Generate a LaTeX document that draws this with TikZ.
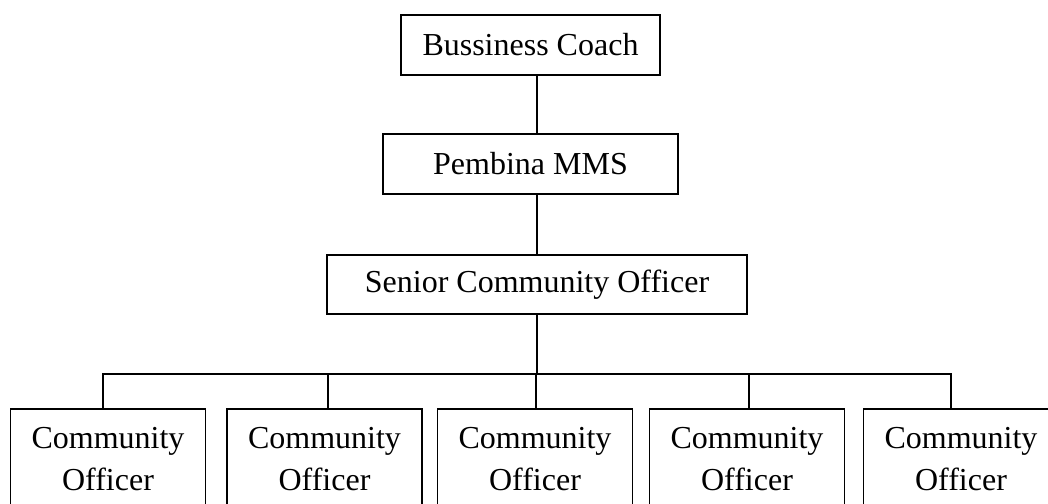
\documentclass[tikz,border=0pt]{standalone}
\usepackage{fontspec}
\setmainfont{Liberation Serif}
\usepackage{tikz}

\begin{document}
\begin{tikzpicture}[x=0.5pt, y=-0.5pt]
      \tikzstyle{box} = [draw, rectangle, line width=0.65pt, inner sep=0pt, align=center, font=\fontsize{16}{21}\selectfont]
      \tikzstyle{officer} = [box, minimum width=97.5pt, minimum height=50pt]
      \tikzstyle{link} = [line width=1.3pt]
      \clip (0,0) rectangle (1048,503);
      \node[box, minimum width=129.5pt, minimum height=30pt] (coach) at (530.5,45) {Bussiness Coach};
      \node[box, minimum width=147.5pt, minimum height=30pt] (mms) at (530.5,164) {Pembina MMS};
      \node[box, minimum width=210pt, minimum height=29.5pt] (sco) at (537,284.5) {Senior Community Officer};
      \node[officer] (co1) at (108,459) {Community\\Officer};
      \node[officer] (co2) at (324.5,459) {Community\\Officer};
      \node[officer] (co3) at (535,459) {Community\\Officer};
      \node[officer] (co4) at (747,459) {Community\\Officer};
      \node[officer] (co5) at (961,459) {Community\\Officer};
      \coordinate (bus) at (537,374);
      \draw[link] (coach.south -| sco) -- (mms.north -| sco);
      \draw[link] (mms.south -| sco) -- (sco.north);
      \draw[link] (sco.south) -- (bus);
      % branches down to each officer
      \draw[link] ([xshift=-2.5pt]co1.north) |- (bus);
      \draw[link] ([xshift=1.75pt]co2.north) |- (bus);
      \draw[link] ([xshift=0.5pt]co3.north) |- (bus);
      \draw[link] ([xshift=1pt]co4.north) |- (bus);
      \draw[link] ([xshift=-5pt]co5.north) |- (bus);
    \end{tikzpicture}
\end{document}
